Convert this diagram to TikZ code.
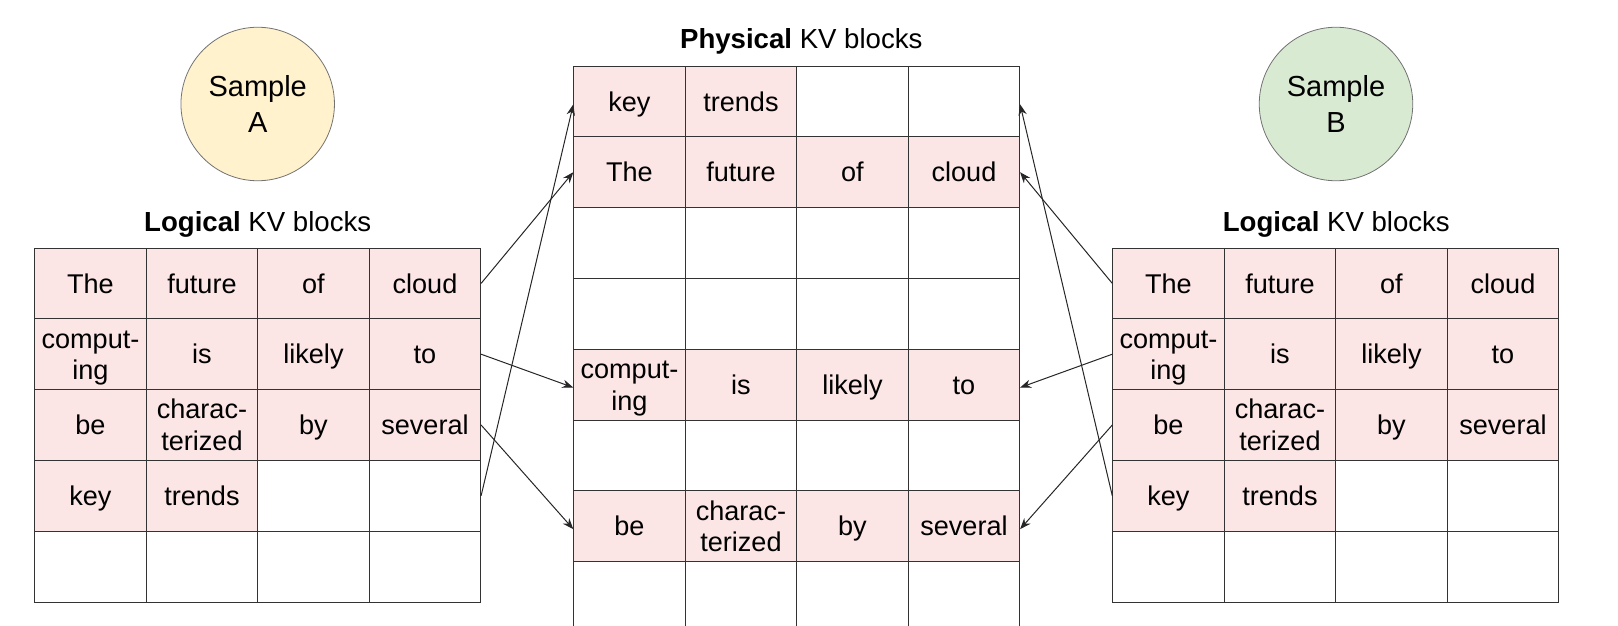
\documentclass[tikz,border=0pt]{standalone}
\usepackage{fontspec}
\setmainfont{Liberation Sans}
\usetikzlibrary{arrows.meta}
\definecolor{cellpink}{HTML}{FCE5E5}
\definecolor{sampyel}{HTML}{FFF2CC}
\definecolor{sampgrn}{HTML}{D9EAD3}
\tikzset{
  cell/.style={draw=black!80,fill=white,inner sep=0pt,minimum width=55.75pt,minimum height=35.4pt,
    align=center,text height=9.7pt,text depth=0pt,font=\fontsize{13.55}{15.85}\selectfont},
  one/.style={},
  two/.style={text height=25.55pt},
  used/.style={fill=cellpink},
  sample/.style={circle,draw=black!55,minimum size=76.75pt,inner sep=0pt,align=center,
    text height=28.2pt,text depth=0pt,font=\fontsize{14.5}{17.8}\selectfont},
  blocktitle/.style={anchor=base,font=\fontsize{13.8}{16}\selectfont},
  map/.style={-{Stealth[length=5.5pt,width=4.2pt]},black!85,line width=.5pt}
}
\begin{document}
\begin{tikzpicture}[x=.5pt,y=-.5pt]
\useasboundingbox (0,0) rectangle (1618,626);
\clip (0,0) rectangle (1618,626);
% samples and titles
\node[sample,fill=sampyel] (sa) at (257.7,104) {Sample\\A};
\node[sample,fill=sampgrn] (sb) at (1336,104) {Sample\\B};
\node[blocktitle] (ta) at (257.7,231) {\textbf{Logical} KV blocks};
\node[blocktitle] (tb) at (1336.3,231) {\textbf{Logical} KV blocks};
\node[blocktitle] (tp) at (801.3,48.3) {\textbf{Physical} KV blocks};
% logical blocks, same for A and B
\foreach \t/\x in {la/34.7,lb/1112.7} {
  \foreach \w [count=\c] in {The,future,of,cloud}
    \node[cell,used] (\t-1-\c) at (\x+111.5*\c-55.75,283.4) {\w};
  \foreach \w/\s [count=\c] in {{comput-\\ing}/two,is/one,likely/one,to/one}
    \node[cell,used,\s] (\t-2-\c) at (\x+111.5*\c-55.75,354.2) {\w};
  \foreach \w/\s [count=\c] in {be/one,{charac-\\terized}/two,by/one,several/one}
    \node[cell,used,\s] (\t-3-\c) at (\x+111.5*\c-55.75,425) {\w};
  \foreach \w/\f [count=\c] in {key/cellpink,trends/cellpink,{}/white,{}/white}
    \node[cell,fill=\f] (\t-4-\c) at (\x+111.5*\c-55.75,495.8) {\w};
  \foreach \c in {1,...,4}
    \node[cell] (\t-5-\c) at (\x+111.5*\c-55.75,566.6) {};
}
% physical blocks
\foreach \w/\f [count=\c] in {key/cellpink,trends/cellpink,{}/white,{}/white}
  \node[cell,fill=\f] (p-1-\c) at (517.95+111.5*\c,101.4) {\w};
\foreach \w [count=\c] in {The,future,of,cloud}
  \node[cell,used] (p-2-\c) at (517.95+111.5*\c,172.2) {\w};
\foreach \w/\s [count=\c] in {{comput-\\ing}/two,is/one,likely/one,to/one}
  \node[cell,used,\s] (p-5-\c) at (517.95+111.5*\c,384.6) {\w};
\foreach \w/\s [count=\c] in {be/one,{charac-\\terized}/two,by/one,several/one}
  \node[cell,used,\s] (p-7-\c) at (517.95+111.5*\c,526.2) {\w};
\foreach \r in {3,4,6,8}
  \foreach \c in {1,...,4}
    \node[cell] (p-\r-\c) at (517.95+111.5*\c,70.8*\r+30.6) {};
% block tables
\draw[map] (la-1-4.east) -- (p-2-1.west);
\draw[map] (la-2-4.east) -- (p-5-1.183);
\draw[map] (la-3-4.east) -- (p-7-1.183);
\draw[map] (la-4-4.east) -- (p-1-1.183);
\draw[map] (lb-1-1.west) -- (p-2-4.east);
\draw[map] (lb-2-1.west) -- (p-5-4.357);
\draw[map] (lb-3-1.west) -- (p-7-4.357);
\draw[map] (lb-4-1.west) -- (p-1-4.357);
\end{tikzpicture}
\end{document}
